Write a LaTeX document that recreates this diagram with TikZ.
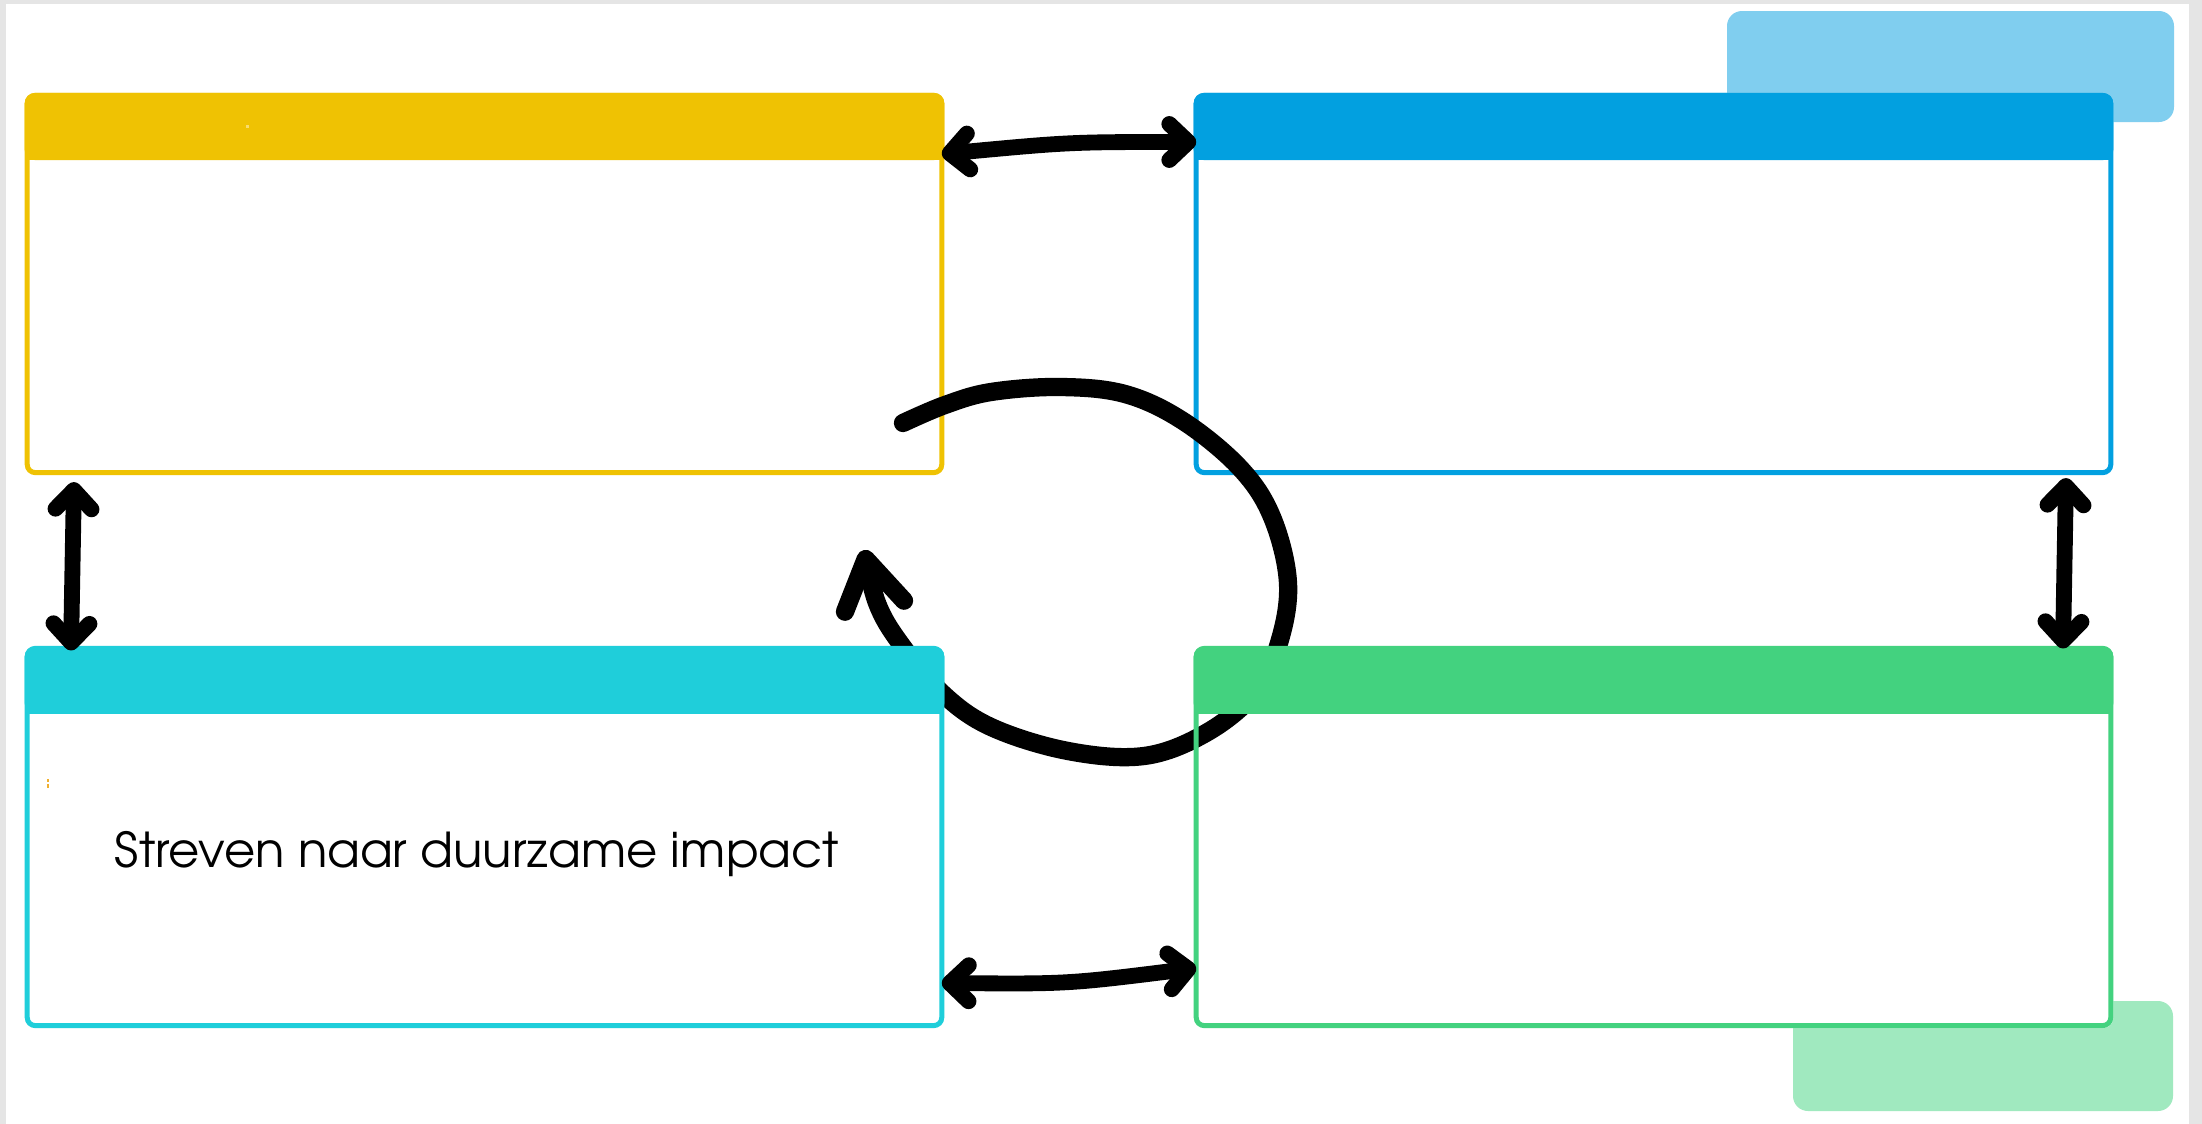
\documentclass[tikz,border=0pt]{standalone}
\usepackage{fontspec}
\usepackage{graphicx}
\usetikzlibrary{arrows.meta,calc}
\newfontfamily\advfont{TeX Gyre Adventor}
\definecolor{bggray}{HTML}{E5E5E5}
\definecolor{cyellow}{HTML}{EFC203}
\definecolor{cblue}{HTML}{02A0E0}
\definecolor{clblue}{HTML}{80CEEF}
\definecolor{ccyan}{HTML}{1FCEDA}
\definecolor{cgreen}{HTML}{43D27F}
\definecolor{clgreen}{HTML}{A0E9BF}
\definecolor{cpale}{HTML}{F8DC70}
\definecolor{corange}{HTML}{F0B030}
\tikzset{
  hb/.tip={Straight Barb[length=1.9mm,width=3.6mm,round]},
  bigbarb/.tip={Straight Barb[length=4.8mm,width=6mm,round]},
  boxfill/.style={rectangle, minimum width=9.19cm, minimum height=3.82cm, inner sep=0pt, outer sep=0pt, fill=white, rounded corners=0.1cm},
  boxline/.style={rectangle, minimum width=9.14cm, minimum height=3.77cm, inner sep=0pt, outer sep=0pt, draw=#1, line width=1.42pt, rounded corners=0.08cm},
  boxhead/.style={rectangle, minimum width=9.19cm, minimum height=0.67cm, inner sep=0pt, outer sep=0pt, fill=#1, rounded corners=0.1cm},
  arr/.style={line width=4.5pt, line cap=round, arrows={hb-hb}},
  loopline/.style={line width=5.2pt, line cap=round, line join=round, arrows={-bigbarb}}
}
\begin{document}
\begin{tikzpicture}[x=0.01cm,y=-0.01cm]
\useasboundingbox (0,0) rectangle (2202,1124);
\fill[bggray] (0,0) rectangle (2202,1124);
\fill[white] (6,4) rectangle (2189,1124);
% light back panels
\fill[clblue, rounded corners=0.15cm] (1727,11) rectangle (2174,122);
\fill[clgreen, rounded corners=0.15cm] (1793,1001) rectangle (2173,1111);
% white box bodies
\node[boxfill] (yb) at (484.5,284) {};
\node[boxfill] (bb) at (1653.5,284) {};
\node[boxfill] (cb) at (484.5,837) {};
\node[boxfill] (gb) at (1653.5,837) {};
% top boxes
\node[boxline=cyellow] (yo) at (yb) {};
\node[boxhead=cyellow] (yh) at (484.5,126.5) {};
\fill[cyellow] (yh.west) rectangle (yh.south east);
\node[boxline=cblue] (bo) at (bb) {};
\node[boxhead=cblue] (bh) at (1653.5,126.5) {};
\fill[cblue] (bh.west) rectangle (bh.south east);
% cycle loop
\draw[loopline] plot[smooth, tension=0.6] coordinates {(903,423) (945,405) (991,392) (1060,387) (1125,394) (1183,421) (1240,468) (1272,517) (1288,583) (1279,643) (1255,693) (1206,733) (1144,756) (1068,751) (991,727) (942,693) (900,643) (877,603) (864,550)};
% bottom boxes
\node[boxline=ccyan] (co) at (cb) {};
\node[boxhead=ccyan] (ch) at (484.5,680) {};
\fill[ccyan] (ch.west) rectangle (ch.south east);
\node[boxline=cgreen] (go) at (gb) {};
\node[boxhead=cgreen] (gh) at (1653.5,680) {};
\fill[cgreen] (gh.west) rectangle (gh.south east);
% tiny marks
\fill[cpale] (246,125) rectangle (249,128);
\fill[corange] (47,779) rectangle (49,782);
\fill[corange] (47,784) rectangle (49,788);
% connectors
\draw[arr] (yo.east |- 0,154) .. controls (1070,142) .. (bo.west |- 0,142);
\draw[arr] (co.east |- 0,983) .. controls (1068,984) .. (go.west |- 0,968);
\draw[arr] ($(yb.south -| 74,0)+(0,7)$) -- ($(ch.north -| 71,0)+(0,4)$);
\draw[arr] ($(bb.south -| 2066,0)+(0,3)$) -- ($(gh.north -| 2063,0)+(0,2)$);
% text
\node[anchor=base west, inner sep=0pt] (txt) at (114,867) {\resizebox{7.24cm}{!}{\advfont Streven naar duurzame impact}};
\end{tikzpicture}
\end{document}
